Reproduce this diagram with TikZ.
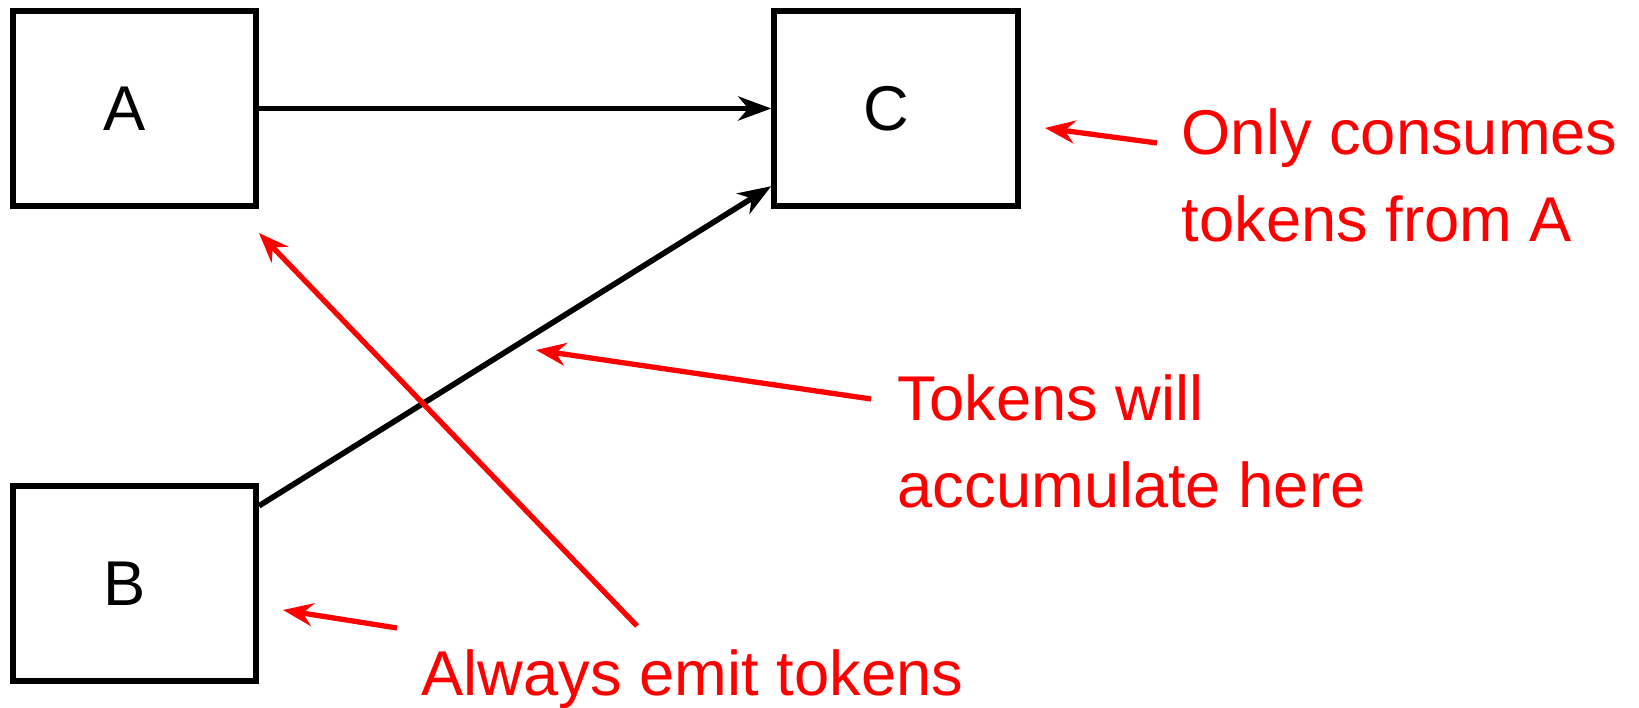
\documentclass[tikz,border=0pt]{standalone}
\usepackage{fontspec}
\setmainfont{Liberation Sans}
\usetikzlibrary{arrows.meta}

\begin{document}
\begin{tikzpicture}[
  every node/.style={font=\fontsize{18}{24.8}\selectfont},
  block/.style={draw, line width=1.7pt, minimum width=2.435cm, minimum height=1.95cm},
  flow/.style={line width=1.6pt, -{Stealth[length=3.3mm,width=2.4mm,inset=1mm]}},
  note/.style={red, align=left, anchor=base west, inner sep=0pt},
  pointer/.style={red, line width=1.5pt, -{Stealth[length=3mm,width=2.3mm,inset=1mm]}}
]
\useasboundingbox (0,0) rectangle (16.39,-7.08);

% the three actors
\node[block] (A) at (1.343,-1.085) {A\kern1.9mm};
\node[block] (B) at (1.343,-5.835) {B\kern1.9mm};
\node[block] (C) at (8.96,-1.085) {C\kern1.9mm};

\draw[flow] (A) -- (C);
\draw[flow] (B) -- (C);

% remarks (base is the last line)
\node[note] (only) at (11.81,-2.42) {Only consumes\\tokens from A};
\node[note] (accum) at (8.97,-5.08) {Tokens will\\accumulate here};
\node[note] (emit) at (4.21,-6.96) {Always emit tokens};

\coordinate (onlyA) at (10.45,-1.28);
\coordinate (onlyB) at (11.57,-1.43);
\coordinate (accA) at (5.36,-3.50);
\coordinate (accB) at (8.71,-3.99);
\coordinate (emitA) at (2.59,-2.33);
\coordinate (emitB) at (6.37,-6.26);
\coordinate (emitC) at (2.83,-6.10);
\coordinate (emitD) at (3.97,-6.28);

\draw[pointer] (onlyB) -- (onlyA);
\draw[pointer] (accB) -- (accA);
\draw[pointer] (emitB) -- (emitA);
\draw[pointer] (emitD) -- (emitC);
\end{tikzpicture}
\end{document}
